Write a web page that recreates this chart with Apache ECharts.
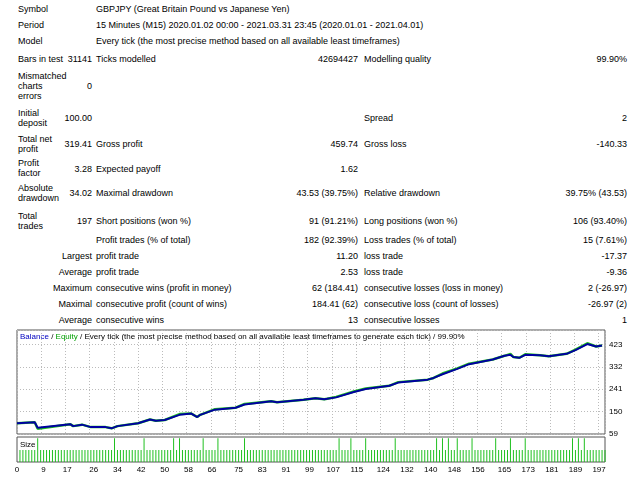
<!DOCTYPE html><html><head><meta charset="utf-8">
<script src="https://cdn.jsdelivr.net/npm/echarts@6/dist/echarts.min.js"></script>
<style>
body{margin:0;width:640px;height:480px;background:#fff;font-family:"Liberation Sans",sans-serif;font-size:9px;color:#000;position:relative;overflow:hidden}
.t{position:absolute;white-space:nowrap;line-height:10px}
.r{text-align:right}
#c{position:absolute;left:0;top:320px;width:640px;height:160px}
</style></head><body>
<div id="txt"></div>
<div id="c"></div>
<script>
const reportRows=[
[4,"Symbol",18,"l"],[4,"GBPJPY (Great Britain Pound vs Japanese Yen)",96,"l"],
[20,"Period",18,"l"],[20,"15 Minutes (M15) 2020.01.02 00:00 - 2021.03.31 23:45 (2020.01.01 - 2021.04.01)",96,"l"],
[36,"Model",18,"l"],[36,"Every tick (the most precise method based on all available least timeframes)",96,"l"],
[54,"Bars in test",18,"l"],[54,"31141",92,"r"],[54,"Ticks modelled",96,"l"],[54,"42694427",358,"r"],[54,"Modelling quality",364,"l"],[54,"99.90%",627,"r"],
[71,"Mismatched",18,"l"],[81,"charts",18,"l"],[91,"errors",18,"l"],[81,"0",92,"r"],
[108,"Initial",18,"l"],[118,"deposit",18,"l"],[113,"100.00",92,"r"],[113,"Spread",364,"l"],[113,"2",627,"r"],
[134,"Total net",18,"l"],[144,"profit",18,"l"],[139,"319.41",92,"r"],[139,"Gross profit",96,"l"],[139,"459.74",358,"r"],[139,"Gross loss",364,"l"],[139,"-140.33",627,"r"],
[158,"Profit",18,"l"],[168,"factor",18,"l"],[164,"3.28",92,"r"],[164,"Expected payoff",96,"l"],[164,"1.62",358,"r"],
[183,"Absolute",18,"l"],[193,"drawdown",18,"l"],[188,"34.02",92,"r"],[188,"Maximal drawdown",96,"l"],[188,"43.53 (39.75%)",358,"r"],[188,"Relative drawdown",364,"l"],[188,"39.75% (43.53)",627,"r"],
[211,"Total",18,"l"],[221,"trades",18,"l"],[216,"197",92,"r"],[216,"Short positions (won %)",96,"l"],[216,"91 (91.21%)",358,"r"],[216,"Long positions (won %)",364,"l"],[216,"106 (93.40%)",627,"r"],
[235,"Profit trades (% of total)",96,"l"],[235,"182 (92.39%)",358,"r"],[235,"Loss trades (% of total)",364,"l"],[235,"15 (7.61%)",627,"r"],
[251,"Largest",92,"r"],[251,"profit trade",96,"l"],[251,"11.20",358,"r"],[251,"loss trade",364,"l"],[251,"-17.37",627,"r"],
[267,"Average",92,"r"],[267,"profit trade",96,"l"],[267,"2.53",358,"r"],[267,"loss trade",364,"l"],[267,"-9.36",627,"r"],
[283,"Maximum",92,"r"],[283,"consecutive wins (profit in money)",96,"l"],[283,"62 (184.41)",358,"r"],[283,"consecutive losses (loss in money)",364,"l"],[283,"2 (-26.97)",627,"r"],
[299,"Maximal",92,"r"],[299,"consecutive profit (count of wins)",96,"l"],[299,"184.41 (62)",358,"r"],[299,"consecutive loss (count of losses)",364,"l"],[299,"-26.97 (2)",627,"r"],
[315,"Average",92,"r"],[315,"consecutive wins",96,"l"],[315,"13",358,"r"],[315,"consecutive losses",364,"l"],[315,"1",627,"r"]
];
let h="";
for(const [y,s,x,a] of reportRows){
  h+= a==="r" ? `<div class="t r" style="top:${y}px;right:${640-x}px">${s}</div>` : `<div class="t" style="top:${y}px;left:${x}px">${s}</div>`;
}
document.getElementById('txt').innerHTML=h;

const balance=[[0,103],[6,107],[7,84],[18,99],[19,91],[22,97],[25,87],[30,87],[32,82],[34,91],[41,103],[45,118],[47,113],[50,116],[55,137],[59,142],[61,128],[62,137],[67,158],[74,166],[77,179],[86,192],[88,188],[97,198],[101,204],[104,200],[105,202],[108,208],[114,230],[118,242],[126,255],[129,268],[139,280],[141,287],[144,302],[149,324],[153,343],[161,362],[165,377],[167,381],[168,372],[170,369],[172,381],[177,379],[180,375],[186,385],[189,400],[193,425],[196,415],[198,419]];
const equity=[[0,103],[6,107],[7,80],[18,99],[19,91],[22,97],[25,87],[30,87],[32,82],[34,91],[41,103],[45,118],[47,113],[50,116],[55,140],[59,142],[61,128],[62,137],[67,160],[74,166],[77,181],[86,192],[88,188],[97,198],[101,204],[104,200],[105,202],[108,210],[114,232],[118,244],[126,255],[129,270],[139,280],[141,287],[144,305],[149,326],[153,345],[161,362],[165,377],[167,385],[168,372],[170,369],[172,383],[177,379],[180,375],[186,385],[189,402],[193,428],[196,415],[198,419]];
const tallTrades=[7,33,43,53,55,63,68,77,109,113,118,128,142,144,146,149,154,162,167,172,188,190,192];
const tradeCount=199;
const xTicks=[0,9,17,26,34,42,50,58,66,75,83,91,99,107,115,124,132,140,148,156,165,173,181,189,197];
const yTicks=[59,150,241,332,423];
const sizes=[];
for(let i=1;i<=tradeCount;i++) sizes.push([i,tallTrades.includes(i)?0.02:0.01]);

const ch=echarts.init(document.getElementById('c'));
const lbl={fontFamily:"Liberation Sans",fontSize:8,color:'#000'};
ch.setOption({
 animation:false,
 grid:[{left:17,right:35,top:10,height:104,show:true,borderColor:'#555',borderWidth:1},
       {left:17,right:35,top:117,height:25,show:true,borderColor:'#555',borderWidth:1}],
 xAxis:[{type:'value',gridIndex:0,min:0,max:199,axisLabel:{show:false},axisTick:{show:false},axisLine:{show:false},
   splitLine:{show:true,lineStyle:{color:'#bbb',type:[1,2]}},interval:8.2},
  {type:'value',gridIndex:1,min:0,max:199,axisLine:{show:false},axisTick:{show:false},splitLine:{show:false},
   axisLabel:Object.assign({customValues:xTicks,margin:4},lbl)}],
 yAxis:[{type:'value',gridIndex:0,position:'right',min:59,max:482,interval:91,axisLine:{show:false},axisTick:{show:false},
   axisLabel:Object.assign({margin:4,formatter:v=>yTicks.includes(v)?v:''},lbl),
   splitLine:{show:true,lineStyle:{color:'#bbb',type:[1,2]}}},
  {type:'value',gridIndex:1,min:0,max:0.021,axisLabel:{show:false},axisLine:{show:false},axisTick:{show:false},splitLine:{show:false}}],
 graphic:[{type:'text',left:20,top:13,style:{rich:{b:{fill:'#0000c0'},g:{fill:'#00a000'},k:{fill:'#000'}},
   text:'{b|Balance} {k|/} {g|Equity} {k|/ Every tick (the most precise method based on all available least timeframes to generate each tick) / 99.90%}',fontSize:8,fontFamily:'Liberation Sans'}},
  {type:'text',left:20,top:121,style:{text:'Size',fontSize:8,fontFamily:'Liberation Sans',fill:'#000'}}],
 series:[
  {type:'line',data:equity,xAxisIndex:0,yAxisIndex:0,symbol:'none',lineStyle:{color:'#20c020',width:2.5}},
  {type:'line',data:balance,xAxisIndex:0,yAxisIndex:0,symbol:'none',lineStyle:{color:'#0000a0',width:2}},
  {type:'bar',data:sizes,xAxisIndex:1,yAxisIndex:1,barWidth:1,itemStyle:{color:'#20c020'}}
 ]
});
</script></body></html>
